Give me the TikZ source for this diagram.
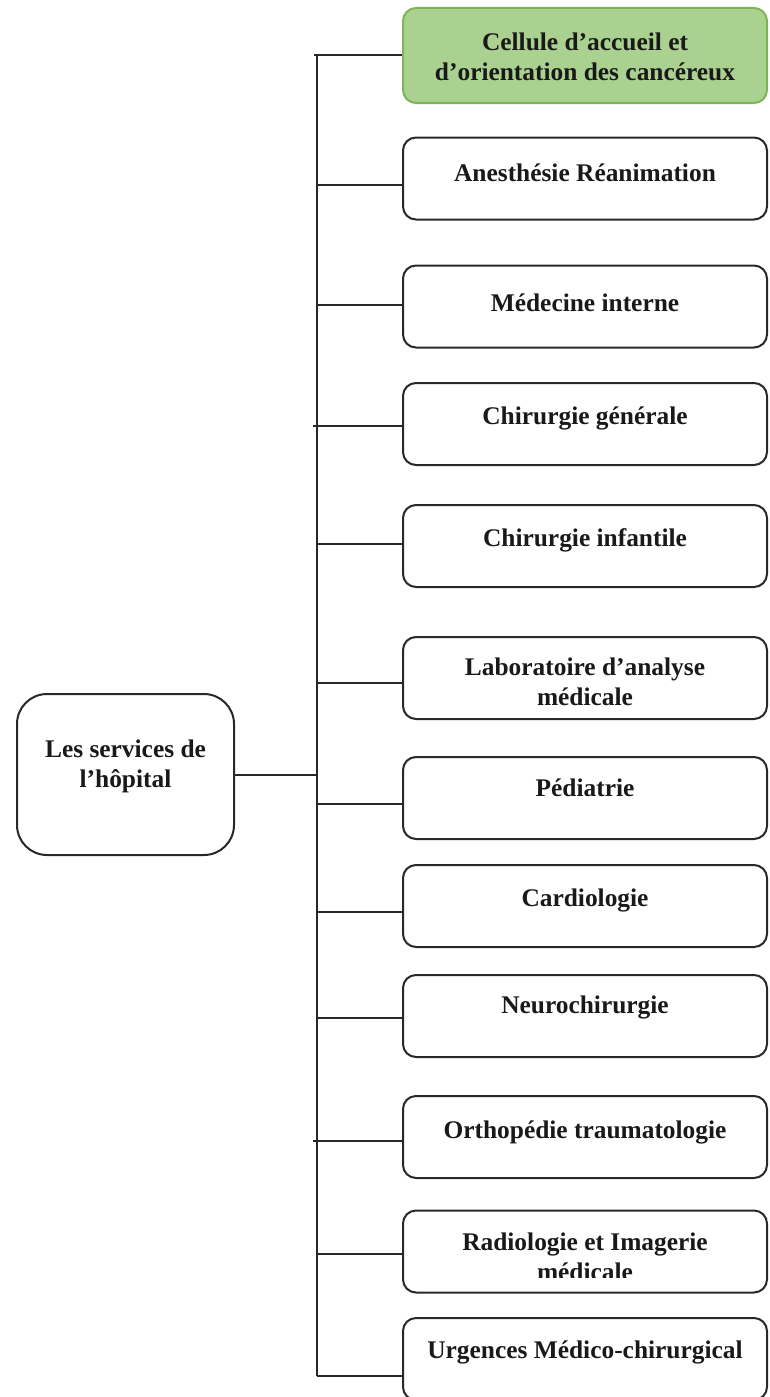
\documentclass[tikz,border=0pt]{standalone}
\usepackage{fontspec}
\setmainfont{Liberation Serif}
\definecolor{linegray}{RGB}{40,40,40}
\definecolor{txtc}{RGB}{25,25,25}
\definecolor{greenfill}{RGB}{170,209,143}
\definecolor{greenline}{RGB}{125,180,90}
\tikzset{
  svc/.style={draw=linegray, line width=2pt, rounded corners=13pt, minimum width=364pt, minimum height=82pt, inner sep=0pt, fill=white},
  svcgreen/.style={svc, draw=greenline, fill=greenfill, minimum height=95pt},
  rootbox/.style={draw=linegray, line width=2pt, rounded corners=30pt, minimum width=217pt, minimum height=161pt, inner sep=0pt},
  lbl/.style={text=txtc, font=\bfseries\fontsize{25.4}{30}\selectfont, align=center, inner sep=0pt},
  conn/.style={draw=linegray, line width=2pt}
}
\begin{document}
\begin{tikzpicture}[x=1pt, y=-1pt]
\useasboundingbox (0,0) rectangle (769,1397);
\fill[white] (0,0) rectangle (769,1397);
% root
\node[rootbox] (root) at (125.5,774.5) {};
\node[lbl] (troot) at ([yshift=8pt]root.center) {Les services de\\l’hôpital};
% service boxes
\node[svcgreen] (b1) at (585,55.5) {};
\node[svc] (b2) at (585,178.5) {};
\node[svc] (b3) at (585,306.5) {};
\node[svc] (b4) at (585,424) {};
\node[svc] (b5) at (585,546) {};
\node[svc] (b6) at (585,678) {};
\node[svc] (b7) at (585,798) {};
\node[svc] (b8) at (585,906) {};
\node[svc] (b9) at (585,1016) {};
\node[svc] (b10) at (585,1137) {};
\node[svc] (b11) at (585,1251.5) {};
\node[svc] (b12) at (585,1359) {};
% texts
\node[lbl] (t1) at ([yshift=-1pt]b1.center) {Cellule d’accueil et\\d’orientation des cancéreux};
\node[lbl] (t2) at ([yshift=6pt]b2.center) {Anesthésie Réanimation};
\node[lbl] (t3) at ([yshift=4pt]b3.center) {Médecine interne};
\node[lbl] (t4) at ([yshift=6pt]b4.center) {Chirurgie générale};
\node[lbl] (t5) at ([yshift=6pt]b5.center) {Chirurgie infantile};
\node[lbl] (t6) at ([yshift=-4pt]b6.center) {Laboratoire d’analyse\\médicale};
\node[lbl] (t7) at ([yshift=10pt]b7.center) {Pédiatrie};
\node[lbl] (t8) at ([yshift=6pt]b8.center) {Cardiologie};
\node[lbl] (t9) at ([yshift=9pt]b9.center) {Neurochirurgie};
\node[lbl] (t10) at ([yshift=5pt]b10.center) {Orthopédie traumatologie};
\begin{scope}
  \clip (403,1211) rectangle (767,1277);
  \node[lbl] (t11) at ([yshift=-5pt]b11.center) {Radiologie et Imagerie\\médicale};
\end{scope}
\node[lbl] (t12) at ([yshift=7pt]b12.center) {Urgences Médico-chirurgical};
% trunk
\coordinate (ttop) at (317,55.5);
\coordinate (tbot) at (317,1376);
\draw[conn] (ttop) -- (tbot);
\draw[conn] (root.east) -- (root.east -| ttop);
\draw[conn] (b1.west) -- (b1.west -| ttop) -- ++(-3,0);
\draw[conn] ([yshift=-6.5pt]b2.west) -- ([yshift=-6.5pt]b2.west -| ttop);
\draw[conn] ([yshift=1.5pt]b3.west) -- ([yshift=1.5pt]b3.west -| ttop);
\draw[conn] ([yshift=-2pt]b4.west) -- ([yshift=-2pt]b4.west -| ttop) -- ++(-4,0);
\draw[conn] ([yshift=2pt]b5.west) -- ([yshift=2pt]b5.west -| ttop);
\draw[conn] ([yshift=-5pt]b6.west) -- ([yshift=-5pt]b6.west -| ttop);
\draw[conn] ([yshift=-6pt]b7.west) -- ([yshift=-6pt]b7.west -| ttop);
\draw[conn] ([yshift=-6pt]b8.west) -- ([yshift=-6pt]b8.west -| ttop);
\draw[conn] ([yshift=-2pt]b9.west) -- ([yshift=-2pt]b9.west -| ttop);
\draw[conn] ([yshift=-4pt]b10.west) -- ([yshift=-4pt]b10.west -| ttop) -- ++(-4,0);
\draw[conn] ([yshift=-2.5pt]b11.west) -- ([yshift=-2.5pt]b11.west -| ttop);
\draw[conn] ([yshift=-17pt]b12.west) -- ([yshift=-17pt]b12.west -| ttop);
\end{tikzpicture}
\end{document}
